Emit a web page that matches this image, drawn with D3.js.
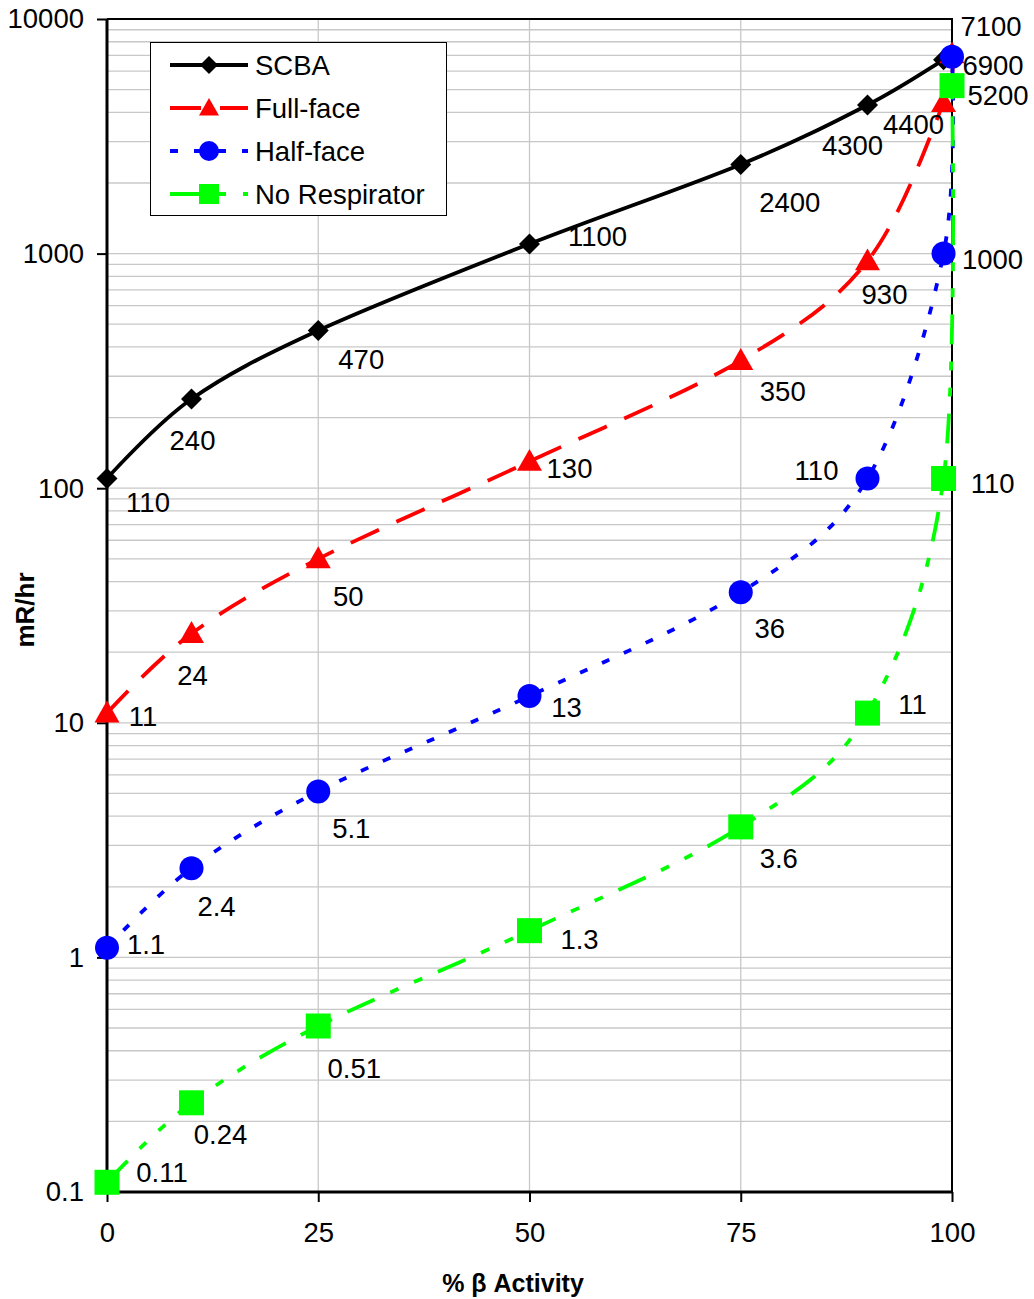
<!DOCTYPE html>
<html>
<head>
<meta charset="utf-8">
<script src="https://cdn.jsdelivr.net/npm/d3@7"></script>
<style>
  html, body { margin: 0; padding: 0; background: #fff; }
  svg { display: block; font-family: "Liberation Sans", Arial, sans-serif; }
</style>
</head>
<body>
<svg id="chart" width="1034" height="1299"></svg>
<script>
// ---- data ----
const xValues = [0, 10, 25, 50, 75, 90, 99, 100];
const seriesNames = ["SCBA", "Full-face", "Half-face", "No Respirator"];
const scbaValues     = [110, 240, 470, 1100, 2400, 4300, 6700, 7100];
const fullFaceValues = [11, 24, 50, 130, 350, 930, 4400, 7100];
const halfFaceValues = [1.1, 2.4, 5.1, 13, 36, 110, 1000, 6900];
const noRespValues   = [0.11, 0.24, 0.51, 1.3, 3.6, 11, 110, 5200];
const scbaLabels     = ["110", "240", "470", "1100", "2400", "4300", null, "7100"];
const fullFaceLabels = ["11", "24", "50", "130", "350", "930", "4400", null];
const halfFaceLabels = ["1.1", "2.4", "5.1", "13", "36", "110", "1000", "6900"];
const noRespLabels   = ["0.11", "0.24", "0.51", "1.3", "3.6", "11", "110", "5200"];
const xTickValues = [0, 25, 50, 75, 100];
const yTickValues = [0.1, 1, 10, 100, 1000, 10000];
const xTitle = "% β Activity";
const yTitle = "mR/hr";

// ---- styles / layout ----
const FS = 27.5;
const styles = [
  { color: "#000000", dash: null, marker: "diamond", size: 21 },
  { color: "#ff0000", dash: "31,19", marker: "triangle", size: 25 },
  { color: "#0000ff", dash: "8,16", marker: "circle", size: 24 },
  { color: "#00ff00", dash: "30,17,9,17,9,17", marker: "square", size: 25 }
];
// label offsets (text center relative to point), pixels
const labelOffsets = [
  [[41,24],[1,41],[43,29],[68,-7],[49,38],[-15,41],[0,0],[39,-27]],
  [[36,3],[1,42],[30,38],[40,7],[42,31],[17,34],[-30,22],[0,0]],
  [[39,-3],[25,38],[33,37],[37,11],[29,36],[-51,-8],[49,6],[41,9]],
  [[55,-10],[29,32],[36,42],[50,9],[38,32],[45,-9],[49,5],[46,10]]
];

const L = 107, R = 952, T = 19, B = 1192;
const x = d3.scaleLinear().domain([0, 100]).range([L, R]);
const y = d3.scaleLog().domain([0.1, 10000]).range([B, T]);

const svg = d3.select("#chart");

// gridlines (horizontal minor + major)
const gridVals = [];
for (let e = -1; e < 4; e++) {
  for (let m = 1; m <= 9; m++) gridVals.push(m * Math.pow(10, e));
}
gridVals.push(10000);
svg.append("g").selectAll("line").data(gridVals).join("line")
  .attr("x1", L).attr("x2", R)
  .attr("y1", d => y(d)).attr("y2", d => y(d))
  .attr("stroke", "#c8c8c8").attr("stroke-width", 1.3);
svg.append("g").selectAll("line").data([25, 50, 75]).join("line")
  .attr("x1", d => x(d)).attr("x2", d => x(d))
  .attr("y1", T).attr("y2", B)
  .attr("stroke", "#c8c8c8").attr("stroke-width", 1.3);

// plot border (top + right)
svg.append("path")
  .attr("d", `M${L},${T}H${R}V${B}`)
  .attr("fill", "none").attr("stroke", "#000").attr("stroke-width", 2);

// axes
const xAxis = d3.axisBottom(x).tickValues(xTickValues).tickSize(10).tickPadding(20)
  .tickFormat(d3.format("d"));
const gx = svg.append("g").attr("transform", `translate(0,${B})`).call(xAxis);
gx.select(".domain").attr("stroke-width", 3).attr("d", `M${L},0H${R}`);
gx.selectAll(".tick line").attr("stroke-width", 2);
gx.selectAll("text").attr("font-size", FS).attr("font-family", "Liberation Sans, Arial, sans-serif").attr("fill", "#000");

const yAxis = d3.axisLeft(y).tickValues(yTickValues).tickSize(10).tickPadding(13)
  .tickFormat(d => String(d));
const gy = svg.append("g").attr("transform", `translate(${L},0)`).call(yAxis);
gy.select(".domain").attr("stroke-width", 3).attr("d", `M0,${T}V${B}`);
gy.selectAll(".tick line").attr("stroke-width", 2);
gy.selectAll("text").attr("font-size", FS).attr("font-family", "Liberation Sans, Arial, sans-serif").attr("fill", "#000");

// series
const allValues = [scbaValues, fullFaceValues, halfFaceValues, noRespValues];
const allLabels = [scbaLabels, fullFaceLabels, halfFaceLabels, noRespLabels];
const line = d3.line().x(d => x(d[0])).y(d => y(d[1])).curve(d3.curveCardinal.tension(0));

function drawMarker(g, type, cx, cy, size, color) {
  const h = size / 2;
  if (type === "diamond") {
    g.append("path").attr("d", `M${cx},${cy-h}L${cx+h},${cy}L${cx},${cy+h}L${cx-h},${cy}Z`).attr("fill", color);
  } else if (type === "triangle") {
    g.append("path").attr("d", `M${cx},${cy-h}L${cx+h},${cy+h*0.75}L${cx-h},${cy+h*0.75}Z`).attr("fill", color);
  } else if (type === "circle") {
    g.append("circle").attr("cx", cx).attr("cy", cy).attr("r", h).attr("fill", color);
  } else {
    g.append("rect").attr("x", cx-h).attr("y", cy-h).attr("width", size).attr("height", size).attr("fill", color);
  }
}

const seriesG = svg.append("g");
allValues.forEach((vals, i) => {
  const st = styles[i];
  const pts = xValues.map((xv, j) => [xv, vals[j]]);
  seriesG.append("path").attr("d", line(pts))
    .attr("fill", "none").attr("stroke", st.color).attr("stroke-width", 3.8)
    .attr("stroke-dasharray", st.dash);
});
allValues.forEach((vals, i) => {
  const st = styles[i];
  const mg = seriesG.append("g");
  xValues.forEach((xv, j) => drawMarker(mg, st.marker, x(xv), y(vals[j]), st.size, st.color));
});
const labG = svg.append("g");
allValues.forEach((vals, i) => {
  xValues.forEach((xv, j) => {
    const lab = allLabels[i][j];
    if (!lab) return;
    const off = labelOffsets[i][j];
    labG.append("text")
      .attr("x", x(xv) + off[0]).attr("y", y(vals[j]) + off[1])
      .attr("text-anchor", "middle").attr("dominant-baseline", "central")
      .attr("font-size", FS).attr("fill", "#000").text(lab);
  });
});

// axis titles
svg.append("text").attr("x", 513).attr("y", 1292).attr("text-anchor", "middle")
  .attr("font-size", 25).attr("font-weight", "bold").text(xTitle);
svg.append("text").attr("transform", "translate(34,610) rotate(-90)").attr("text-anchor", "middle")
  .attr("font-size", 26).attr("font-weight", "bold").text(yTitle);

// legend
const lg = svg.append("g");
lg.append("rect").attr("x", 150.5).attr("y", 42.5).attr("width", 296).attr("height", 173)
  .attr("fill", "#fff").attr("stroke", "#000").attr("stroke-width", 1);
seriesNames.forEach((name, i) => {
  const st = styles[i];
  const cy = 65 + i * 43;
  lg.append("line").attr("x1", 170).attr("x2", 248).attr("y1", cy).attr("y2", cy)
    .attr("stroke", st.color).attr("stroke-width", 3.8).attr("stroke-dasharray", st.dash);
  drawMarker(lg, st.marker, 209, cy, st.marker === "diamond" ? 18 : 20, st.color);
  lg.append("text").attr("x", 255).attr("y", cy).attr("dominant-baseline", "central")
    .attr("font-size", FS).text(name);
});
</script>
</body>
</html>
